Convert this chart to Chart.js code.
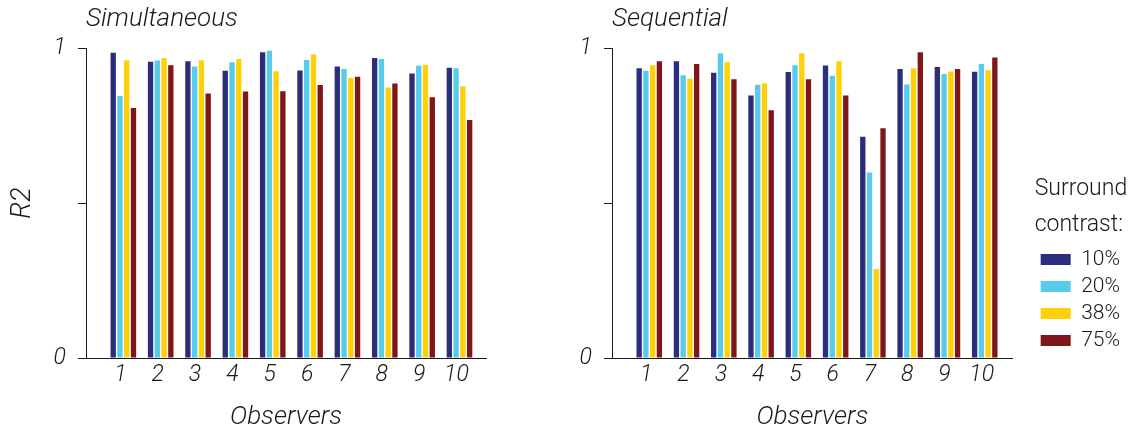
<!DOCTYPE html>
<html>
<head>
<meta charset="utf-8">
<title>R2 by observer</title>
<script src="https://cdn.jsdelivr.net/npm/chart.js@4.4.1/dist/chart.umd.min.js"></script>
<style>
  body { margin: 0; background: #fff; width: 1144px; height: 433px; overflow: hidden; position: relative; }
  .panel { position: absolute; top: 0; height: 433px; }
  #left { left: 0; width: 540px; }
  #right { left: 540px; width: 604px; }
</style>
</head>
<body>
<div class="panel" id="left"><canvas id="chartSim"></canvas></div>
<div class="panel" id="right"><canvas id="chartSeq"></canvas></div>
<script>
const observers = ['1', '2', '3', '4', '5', '6', '7', '8', '9', '10'];
const contrasts = ['10%', '20%', '38%', '75%'];
const colors = ['#2b2d7d', '#57cbeb', '#ffd006', '#7f1619'];
const yTicks = [0, 0.5, 1];
const yTickLabels = ['0', '', '1'];

// Simultaneous
const sim10 = [0.985, 0.956, 0.958, 0.927, 0.987, 0.928, 0.941, 0.968, 0.918, 0.937];
const sim20 = [0.846, 0.960, 0.941, 0.955, 0.992, 0.962, 0.933, 0.965, 0.943, 0.935];
const sim38 = [0.961, 0.968, 0.961, 0.965, 0.926, 0.980, 0.904, 0.873, 0.946, 0.877];
const sim75 = [0.807, 0.945, 0.854, 0.860, 0.861, 0.881, 0.908, 0.886, 0.842, 0.768];

// Sequential
const seq10 = [0.935, 0.958, 0.921, 0.847, 0.923, 0.944, 0.714, 0.933, 0.939, 0.924];
const seq20 = [0.927, 0.913, 0.984, 0.882, 0.945, 0.911, 0.599, 0.883, 0.917, 0.949];
const seq38 = [0.945, 0.901, 0.955, 0.887, 0.984, 0.958, 0.287, 0.935, 0.925, 0.929];
const seq75 = [0.958, 0.949, 0.900, 0.800, 0.900, 0.847, 0.742, 0.987, 0.933, 0.970];

const family = "Roboto, 'Liberation Sans', sans-serif";
const ink = '#1a1a1a';
const italic = (size) => ({ family: family, size: size, style: 'italic', weight: 300 });

function makeChart(id, title, series, cfg) {
    let datasets = series.map((arr, k) => ({
        label: contrasts[k],
        data: arr.map((v, i) => ({ x: i + 1, y: v })),
        backgroundColor: colors[k],
        borderWidth: 0,
        categoryPercentage: 0.724,
        barPercentage: 0.79
    }));

    let scales = {
        x: {
            type: 'linear',
            offset: false,
            min: 0,
            max: cfg.xMax,
            afterFit: (s) => { s.height = 75; },
            afterBuildTicks: (s) => { s.ticks = observers.map((o, i) => ({ value: i + 1 })); },
            grid: { display: false, drawTicks: false, offset: false },
            border: { display: true, color: ink, width: 1 },
            ticks: {
                callback: (v) => observers[v - 1],
                font: italic(23), color: ink, padding: 3, labelOffset: -3,
                maxRotation: 0, autoSkip: false
            },
            title: { display: true, text: 'Observers', font: italic(26), color: ink, padding: { top: 0, bottom: 0 } }
        },
        y: {
            min: 0,
            max: 1,
            afterFit: (s) => { s.width = cfg.yWidth; },
            afterBuildTicks: (s) => { s.ticks = yTicks.map(v => ({ value: v })); },
            grid: { drawOnChartArea: false, drawTicks: true, tickLength: 8, color: ink, lineWidth: 1 },
            border: { display: true, color: ink, width: 1 },
            ticks: {
                callback: (v) => yTickLabels[yTicks.indexOf(v)],
                font: italic(23), color: ink, padding: 12
            },
            title: { display: cfg.yTitle, text: 'R2', font: italic(27), color: ink, padding: { top: 7, bottom: 0 } }
        }
    };

    if (cfg.legend) {
        // empty axis keeps a gap between the plot and the legend
        scales.spacer = {
            type: 'linear', position: 'right', display: true,
            afterFit: (s) => { s.width = 22; },
            grid: { display: false, drawTicks: false },
            border: { display: false },
            ticks: { display: false }
        };
    }

    return new Chart(document.getElementById(id), {
        type: 'bar',
        data: { datasets: datasets },
        options: {
            responsive: true,
            maintainAspectRatio: false,
            animation: false,
            layout: { padding: { left: 0, right: cfg.padRight, top: 0, bottom: 0 } },
            scales: scales,
            plugins: {
                tooltip: { enabled: false },
                title: {
                    display: true,
                    text: title,
                    align: 'start',
                    fullSize: false,
                    font: italic(26),
                    color: ink,
                    padding: { top: 4, bottom: 13 }
                },
                legend: {
                    display: cfg.legend,
                    position: 'right',
                    align: 'start',
                    labels: {
                        boxWidth: 30, boxHeight: 11, padding: 6,
                        font: { family: family, size: 21, weight: 300 },
                        color: ink
                    },
                    title: {
                        display: true,
                        text: ['Surround', 'contrast:'],
                        position: 'start',
                        font: { family: family, size: 23, weight: 300, lineHeight: 1.57 },
                        color: ink,
                        padding: { top: 178, bottom: 29 }
                    }
                }
            }
        }
    });
}

makeChart('chartSim', 'Simultaneous', [sim10, sim20, sim38, sim75],
    { xMax: 10.71, yWidth: 86, yTitle: true, legend: false, padRight: 54 });
makeChart('chartSeq', 'Sequential', [seq10, seq20, seq38, seq75],
    { xMax: 10.75, yWidth: 72, yTitle: false, legend: true, padRight: 14 });
</script>
</body>
</html>
